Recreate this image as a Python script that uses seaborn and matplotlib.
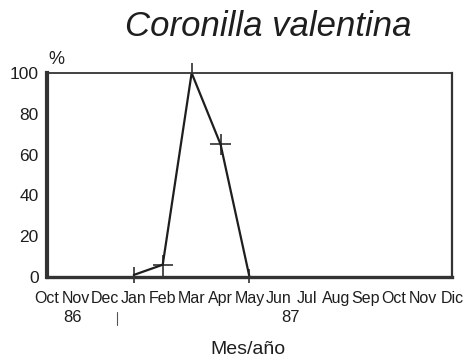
import matplotlib
matplotlib.use("Agg")
import matplotlib.pyplot as plt
import seaborn as sns
import pandas as pd

# Month labels along the x axis (Oct 1986 .. Dec 1987)
months = ["Oct", "Nov", "Dec", "Jan", "Feb", "Mar", "Apr", "May",
          "Jun", "Jul", "Aug", "Sep", "Oct", "Nov", "Dic"]
year_labels = ["86", "87"]

# Observed percentages (Jan..May 1987) and their error ranges
obs_pos = [3, 4, 5, 6, 7]
obs_pct = [1, 6, 100, 65, 0]
err_low = [4, 6, 0, 5, 3]
err_high = [4, 5, 5, 5, 4]
err_x = [0, 0.35, 0, 0.35, 0]

sns.set_theme(style="white")
plt.rcParams["font.family"] = ["Liberation Sans", "DejaVu Sans"]

ink = "#1e1e1e"
fig = plt.figure(figsize=(4.7, 3.6), dpi=100)
ax = fig.add_axes([0.1, 0.2306, 0.8617, 0.5667])

df = pd.DataFrame({"pos": obs_pos, "pct": obs_pct})
sns.lineplot(data=df, x="pos", y="pct", ax=ax, color=ink, linewidth=1.6)
ax.errorbar(obs_pos, obs_pct, yerr=[err_low, err_high], xerr=err_x,
            fmt="none", ecolor=ink, elinewidth=1.1, capsize=0, clip_on=False)

ax.set_xlim(0, 14)
ax.set_ylim(0, 100)
ax.set_xticks(range(len(months)))
ax.set_xticklabels(months)
ax.set_yticks(range(0, 101, 20))
ax.tick_params(axis="both", length=0, colors=ink)
ax.tick_params(axis="x", pad=10, labelsize=11.5)
ax.tick_params(axis="y", pad=6, labelsize=12.5)
ax.set_xlabel("")
ax.set_ylabel("")

for side, lw in (("left", 3.0), ("bottom", 2.4), ("top", 1.3), ("right", 1.6)):
    ax.spines[side].set_visible(True)
    ax.spines[side].set_linewidth(lw)
    ax.spines[side].set_color("#333333")

fig.text(268 / 470, 1 - 36 / 360, "Coronilla valentina", style="italic",
         fontsize=25, ha="center", va="baseline", color=ink)
fig.text(56 / 470, 1 - 59 / 360, "%", fontsize=13, ha="center", va="center", color=ink)
fig.text(73 / 470, 1 - 318 / 360, year_labels[0], fontsize=12, ha="center", va="center", color=ink)
fig.text(291 / 470, 1 - 318 / 360, year_labels[1], fontsize=12, ha="center", va="center", color=ink)
fig.add_artist(plt.Line2D([117 / 470, 117 / 470], [1 - 312 / 360, 1 - 325 / 360],
                          color="#555555", linewidth=0.8))
fig.text(248 / 470, 1 - 349 / 360, "Mes/año", fontsize=14, ha="center", va="center", color=ink)

fig.savefig("out.png", dpi=100, facecolor="white")
